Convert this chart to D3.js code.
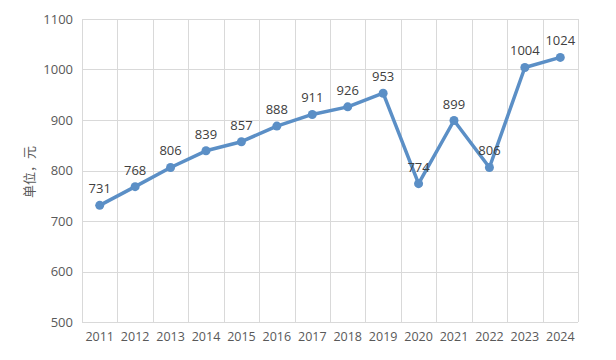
<!DOCTYPE html>
<html>
<head>
<meta charset="utf-8">
<script src="https://cdn.jsdelivr.net/npm/d3@7/dist/d3.min.js"></script>
<style>
  body { margin: 0; background: #fff; }
  text { font-family: "Open Sans", "Noto Sans", "Noto Sans CJK SC", sans-serif; fill: #595959; }
</style>
</head>
<body>
<div id="chart"></div>
<script>
// data
var years = ["2011","2012","2013","2014","2015","2016","2017","2018","2019","2020","2021","2022","2023","2024"];
var values = [731, 768, 806, 839, 857, 888, 911, 926, 953, 774, 899, 806, 1004, 1024];
var yTicks = [500, 600, 700, 800, 900, 1000, 1100];

var width = 616, height = 360;
var margin = {top: 19, right: 38, bottom: 38, left: 82};
var w = width - margin.left - margin.right,
    h = height - margin.top - margin.bottom;

var svg = d3.select("#chart").append("svg")
    .attr("width", width)
    .attr("height", height);

var g = svg.append("g")
    .attr("transform", "translate(" + margin.left + "," + margin.top + ")");

var x = d3.scaleBand().domain(years).range([0, w]);
var y = d3.scaleLinear().domain([500, 1100]).range([h, 0]);

// horizontal grid
g.append("g").selectAll("line")
  .data(yTicks)
  .enter().append("line")
    .attr("x1", 0).attr("x2", w)
    .attr("y1", function(d) { return Math.round(y(d)) + 0.5; })
    .attr("y2", function(d) { return Math.round(y(d)) + 0.5; })
    .attr("stroke", "#d9d9d9");

// vertical grid (category boundaries)
var bounds = years.map(function(d) { return x(d); }).concat([w]);
g.append("g").selectAll("line")
  .data(bounds)
  .enter().append("line")
    .attr("x1", function(d) { return Math.round(d) + 0.5; })
    .attr("x2", function(d) { return Math.round(d) + 0.5; })
    .attr("y1", 0).attr("y2", h)
    .attr("stroke", "#d9d9d9");

// y axis labels
var yAxis = g.append("g")
    .call(d3.axisLeft(y).tickValues(yTicks).tickFormat(d3.format("d")).tickSize(0).tickPadding(9));
yAxis.select(".domain").remove();
yAxis.selectAll("text")
    .style("font-size", "13px")
    .attr("fill", "#595959");

// x axis labels
var xAxis = g.append("g")
    .attr("transform", "translate(0," + h + ")")
    .call(d3.axisBottom(x).tickSize(0).tickPadding(10));
xAxis.select(".domain").remove();
xAxis.selectAll("text")
    .style("font-size", "12.5px")
    .attr("fill", "#595959");

// axis title
svg.append("text")
    .attr("transform", "translate(34,172) rotate(-90)")
    .attr("text-anchor", "middle")
    .style("font-size", "13px")
    .style("font-family", "'Noto Sans CJK SC', sans-serif")
    .style("fill", "#595959")
    .text("单位，元");

var cx = function(d, i) { return x(years[i]) + x.bandwidth() / 2; };

var line = d3.line()
    .x(cx)
    .y(function(d) { return y(d); });

g.append("path")
    .datum(values)
    .attr("d", line)
    .attr("fill", "none")
    .attr("stroke", "#5b8fc6")
    .attr("stroke-width", 3.5)
    .attr("stroke-linejoin", "round");

g.append("g").selectAll("circle")
  .data(values)
  .enter().append("circle")
    .attr("cx", cx)
    .attr("cy", function(d) { return y(d); })
    .attr("r", 4.5)
    .attr("fill", "#5b8fc6");

g.append("g").selectAll("text")
  .data(values)
  .enter().append("text")
    .attr("x", cx)
    .attr("y", function(d) { return y(d) - 12; })
    .attr("text-anchor", "middle")
    .style("font-size", "13px")
    .style("fill", "#404040")
    .text(function(d) { return d; });
</script>
</body>
</html>
